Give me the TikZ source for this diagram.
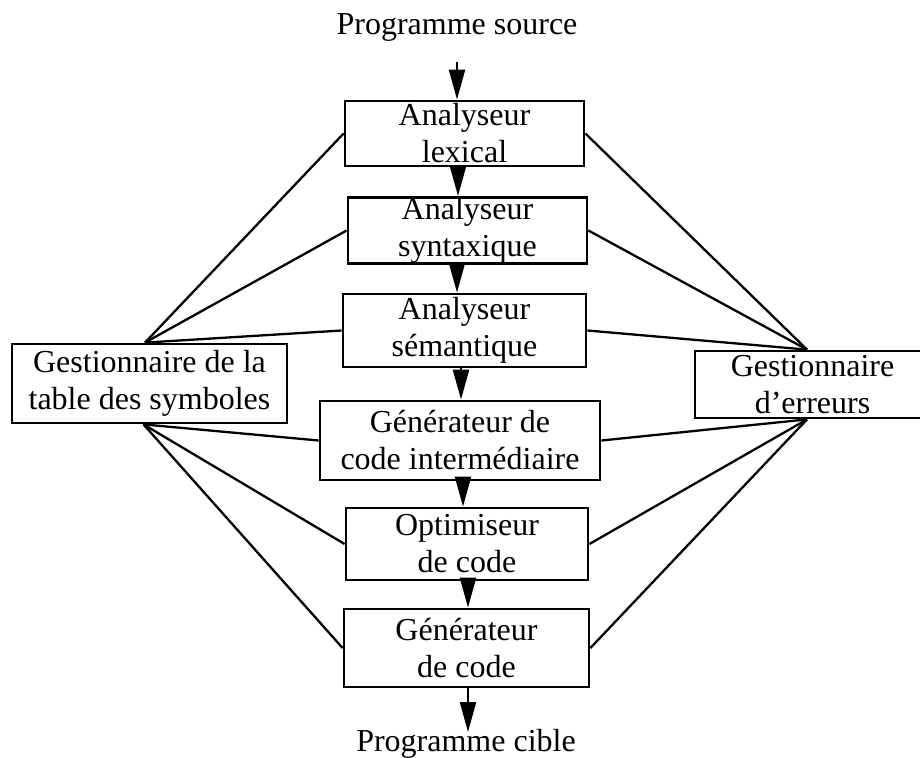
\documentclass[tikz,border=0pt]{standalone}
\usepackage{fontspec}
\setmainfont{Liberation Serif}
\usetikzlibrary{arrows.meta}
\begin{document}
\begin{tikzpicture}[x=1pt,y=-1pt,
  txt/.style={font=\fontsize{32}{37}\selectfont, align=center, inner sep=0pt},
  phase/.style={txt, draw, line width=2.8pt, fill=white},
  link/.style={line width=2.3pt},
  flow/.style={line width=2.3pt, -{Triangle[length=30pt, width=16pt]}}]
\useasboundingbox (0,0) rectangle (920,757);

% compiler phases
\node[phase, minimum width=239pt, minimum height=65pt] (lex)   at (464.5,133.5) {Analyseur\\lexical};
\node[phase, minimum width=239pt, minimum height=65pt] (syn)   at (467.5,230.5) {Analyseur\\syntaxique};
\node[phase, minimum width=243pt, minimum height=73pt] (sem)   at (464.5,330.5) {Analyseur\\sémantique};
\node[phase, minimum width=280pt, minimum height=79pt] (inter) at (460,440.5)   {Générateur de\\code intermédiaire};
\node[phase, minimum width=242pt, minimum height=72pt] (opt)   at (467,544)     {Optimiseur\\de code};
\node[phase, minimum width=245pt, minimum height=78pt] (gen)   at (466.5,648)   {Générateur\\de code};

% side managers
\node[phase, minimum width=275pt, minimum height=79pt] (tab) at (149.5,383.5) {Gestionnaire de la\\table des symboles};
\node[phase, minimum width=235pt, minimum height=67pt] (err) at (812.5,384.5) {Gestionnaire\\d’erreurs};

% input / output
\node[txt, anchor=base] (src) at (457,35)  {Programme source};
\node[txt, anchor=base] (tgt) at (466,751) {Programme cible};
\coordinate (srcend) at (457,62);

% links to the symbol table
\coordinate (tabN) at ([xshift=-4.5pt]tab.north);
\coordinate (tabS) at ([xshift=-6pt]tab.south);
\draw[link] (tabN) -- (lex.west);
\draw[link] (tabN) -- (syn.west);
\draw[link] (tabN) -- (sem.west);
\draw[link] (tabS) -- (inter.west);
\draw[link] (tabS) -- (opt.west);
\draw[link] (tabS) -- (gen.west);

% links to the error manager
\coordinate (errN) at ([xshift=-5.5pt]err.north);
\coordinate (errS) at ([xshift=-5.5pt]err.south);
\draw[link] (errN) -- (lex.east);
\draw[link] (errN) -- (syn.east);
\draw[link] (errN) -- (sem.east);
\draw[link] (errS) -- (inter.east);
\draw[link] (errS) -- (opt.east);
\draw[link] (errS) -- (gen.east);

% main flow
\draw[flow] (srcend) -- (srcend |- lex.north);
\draw[flow] ([xshift=-6.5pt]lex.south) -- ([xshift=-6.5pt]lex.south |- syn.north);
\draw[flow] ([xshift=-10.5pt]syn.south) -- ([xshift=-10.5pt]syn.south |- sem.north);
\draw[flow] ([xshift=-3.5pt]sem.south) -- ([xshift=-3.5pt]sem.south |- inter.north);
\draw[flow] ([xshift=3pt]inter.south) -- ([xshift=3pt]inter.south |- opt.north);
\draw[flow] ([xshift=1pt]opt.south) -- ([xshift=1pt]opt.south |- gen.north);
\draw[flow] ([xshift=1.5pt]gen.south) -- ([xshift=1.5pt]gen.south |- 0,732);
\end{tikzpicture}
\end{document}
